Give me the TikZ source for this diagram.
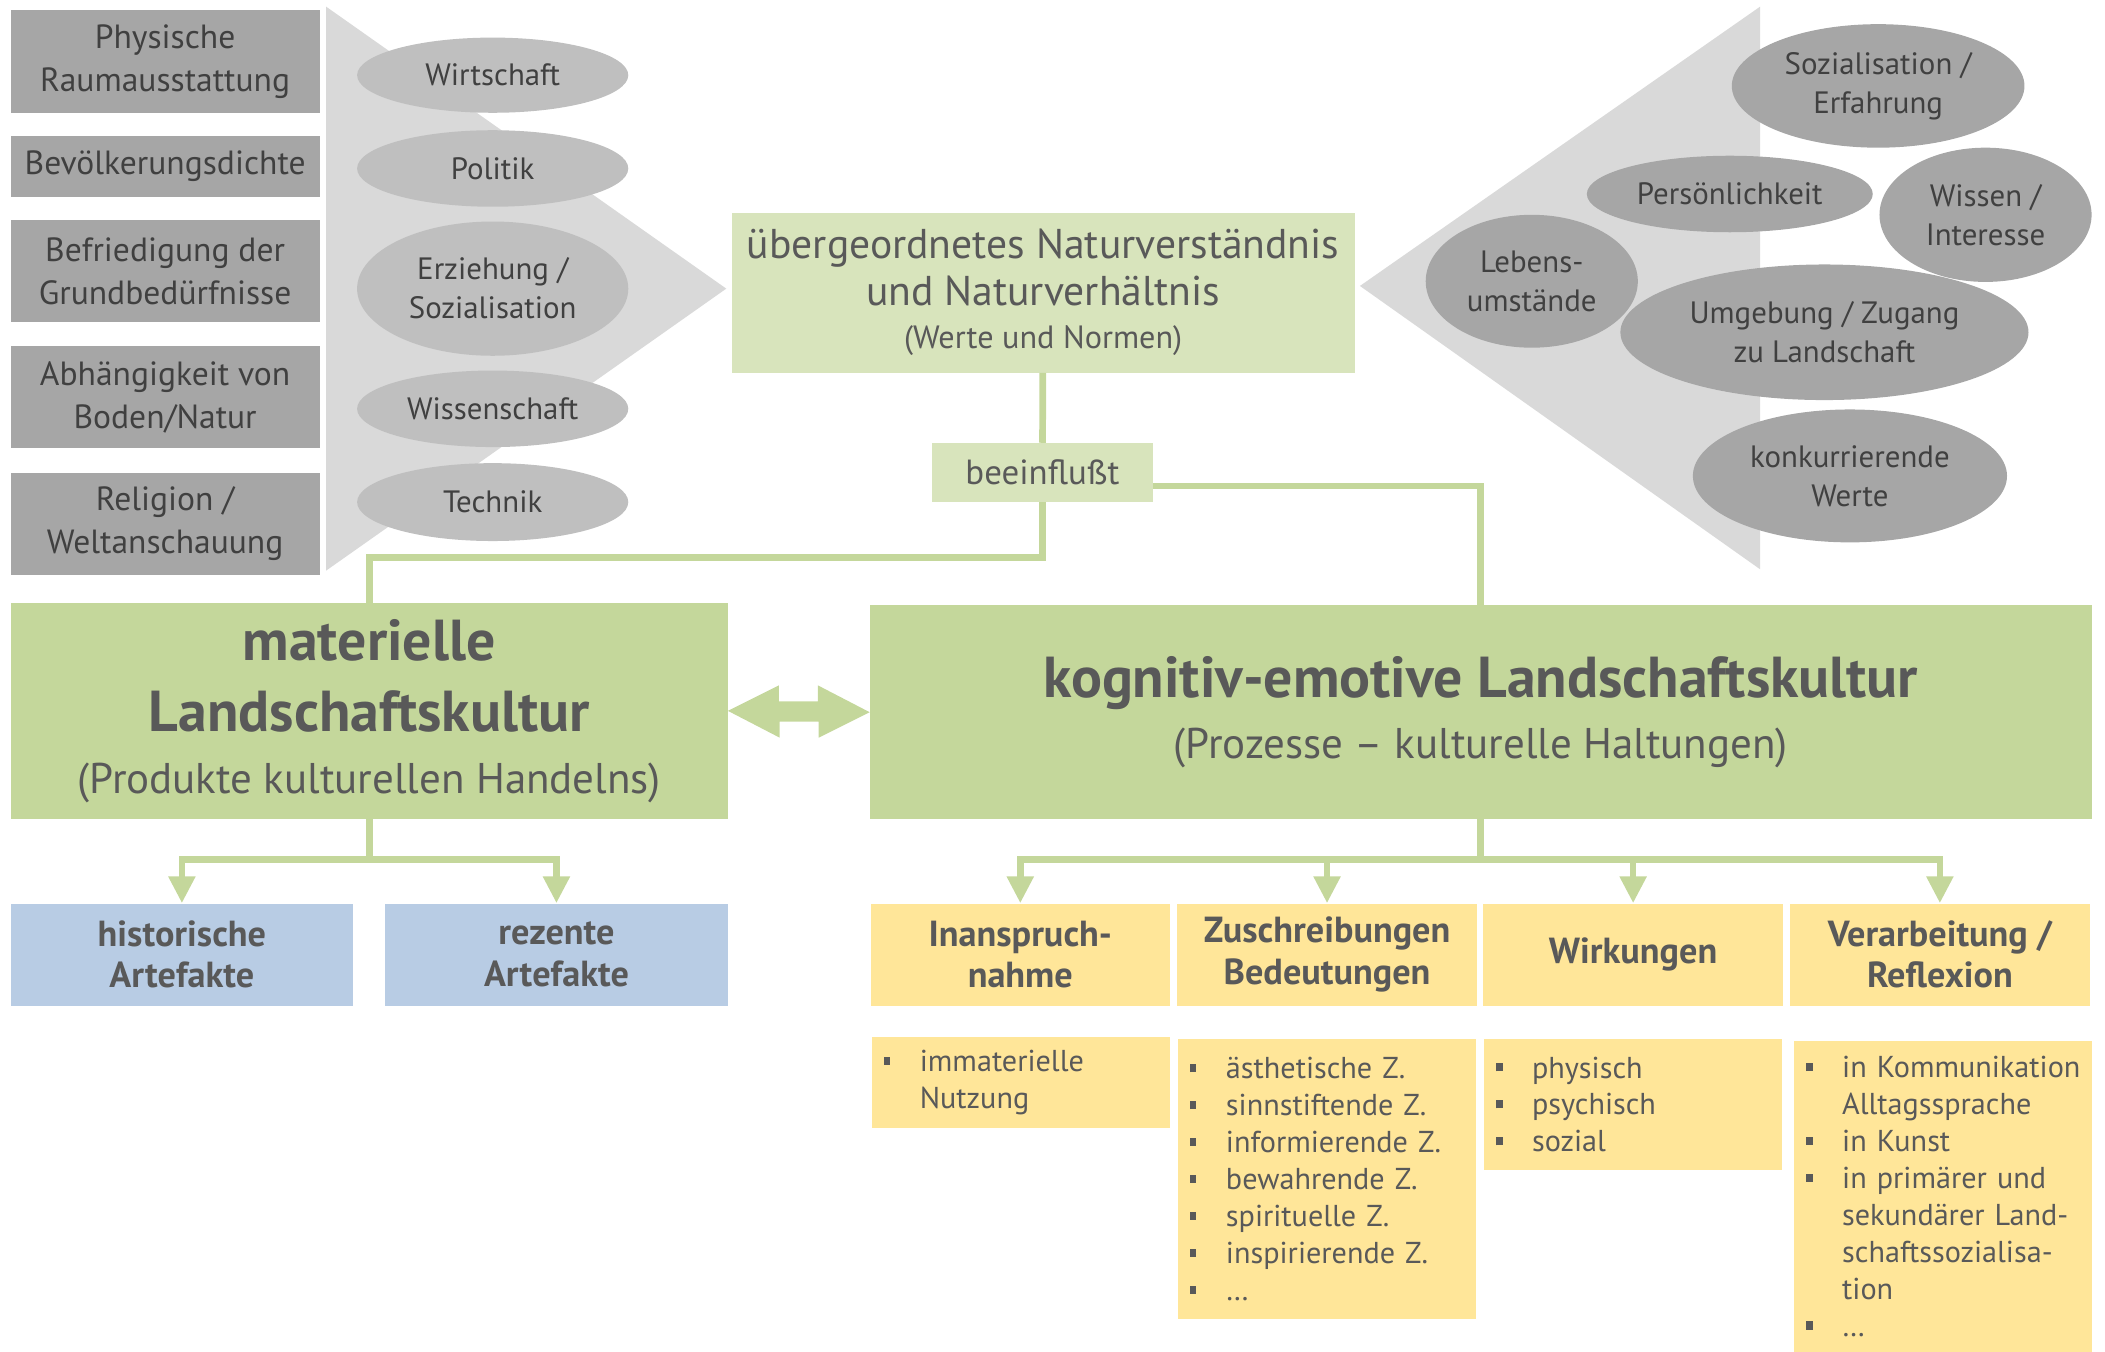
\documentclass[tikz,border=0pt]{standalone}
\usepackage{fontspec}
\setmainfont{PT Sans}
\usetikzlibrary{shapes.geometric,arrows.meta}

\definecolor{boxgray}{HTML}{A6A6A6}
\definecolor{trigray}{HTML}{D9D9D9}
\definecolor{ellgray}{HTML}{BFBFBF}
\definecolor{lightgreen}{HTML}{D8E4BC}
\definecolor{midgreen}{HTML}{C4D79B}
\definecolor{lightblue}{HTML}{B8CCE4}
\definecolor{lightyellow}{HTML}{FFE699}
\definecolor{textgray}{HTML}{404040}
\definecolor{headgray}{HTML}{595959}

\newcommand{\lbul}{\makebox[27pt][l]{\rule[0.22em]{5pt}{6pt}}}
\newcommand{\lind}{\hspace*{27pt}}
\newcommand{\bigrm}{\mdseries\fontsize{32}{40}\selectfont}
\newcommand{\listfont}{\fontsize{22.5}{27.5}\selectfont\hyphenpenalty=10000\relax}

\tikzset{
 factor/.style={fill=boxgray, text=textgray, minimum width=230pt, align=center, inner sep=0pt, font=\fontsize{25}{32}\selectfont},
 inflL/.style={ellipse, fill=ellgray, text=textgray, minimum width=202pt, align=center, inner sep=0pt, font=\fontsize{23}{29}\selectfont},
 inflR/.style={ellipse, fill=boxgray, text=textgray, align=center, inner sep=0pt, font=\fontsize{23}{29}\selectfont},
 kultur/.style={fill=midgreen, text=headgray, align=center, inner sep=0pt, font=\bfseries\fontsize{43}{53}\selectfont},
 artefakt/.style={fill=lightblue, text=headgray, minimum width=255pt, minimum height=76pt, align=center, inner sep=0pt, font=\bfseries\fontsize{27}{31}\selectfont},
 aspekt/.style={fill=lightyellow, text=headgray, minimum width=223pt, minimum height=76pt, align=center, inner sep=0pt, font=\bfseries\fontsize{27}{31}\selectfont},
 liste/.style={fill=lightyellow, text=headgray, anchor=north west, text width=204pt, inner xsep=9pt, inner ysep=0pt, align=left, font=\listfont},
 link/.style={draw=midgreen, line width=5pt},
 linkarrow/.style={link, -{Triangle[length=20pt,width=19pt]}}
}

\begin{document}
\begin{tikzpicture}[x=1pt,y=-1pt]

 \useasboundingbox (0,0) rectangle (1568,1007);

% background triangles
 \fill[trigray] (243,5) -- (541,215) -- (243,425) -- cycle;
 \fill[trigray] (1311,5) -- (1013,213) -- (1311,424) -- cycle;

% left column: basic factors
 \node[factor, minimum height=77pt] (phys) at (123,46) {Physische\\Raumausstattung};
 \node[factor, minimum height=45pt] (bevoel) at (123,124) {Bevölkerungsdichte};
 \node[factor, minimum height=76pt] (befried) at (123,202) {Befriedigung der\\Grundbedürfnisse};
 \node[factor, minimum height=76pt] (abhaeng) at (123,296) {Abhängigkeit von\\Boden/Natur};
 \node[factor, minimum height=76pt] (relig) at (123,390) {Religion /\\Weltanschauung};

% left ellipses
 \node[inflL, minimum height=56pt] (wirt) at (367,56) {Wirtschaft};
 \node[inflL, minimum height=57pt] (pol) at (367,125.5) {Politik};
 \node[inflL, minimum height=100pt] (erz) at (367,215) {Erziehung /\\Sozialisation};
 \node[inflL, minimum height=57pt] (wiss) at (367,304.5) {Wissenschaft};
 \node[inflL, minimum height=58pt] (tech) at (367,374) {Technik};

% right ellipses
 \node[inflR, minimum width=218pt, minimum height=92pt] (soz) at (1399,64) {Sozialisation /\\Erfahrung};
 \node[inflR, minimum width=213pt, minimum height=57pt] (pers) at (1288.5,144.5) {Persönlichkeit};
 \node[inflR, minimum width=158pt, minimum height=100pt] (wissint) at (1479,160) {Wissen /\\Interesse};
 \node[inflR, minimum width=158pt, minimum height=99pt] (leben) at (1141,209.5) {Lebens-\\umstände};
 \node[inflR, minimum width=304pt, minimum height=101pt] (umg) at (1359,247.5) {Umgebung / Zugang\\zu Landschaft};
 \node[inflR, minimum width=234pt, minimum height=99pt] (konk) at (1378,354.5) {konkurrierende\\Werte};

% centre
 \node[fill=lightgreen, text=headgray, minimum width=464pt, minimum height=119pt, align=center, inner sep=0pt,
  font=\fontsize{31}{35}\selectfont] (nat) at (777,218)
  {übergeordnetes Naturverständnis\\und Naturverhältnis\\[-3pt]\fontsize{24}{26}\selectfont (Werte und Normen)};
 \node[fill=lightgreen, text=headgray, minimum width=165pt, minimum height=44pt, inner sep=0pt,
  font=\fontsize{26}{30}\selectfont] (beein) at (776.5,352) {beeinflußt};

% the two cultures
 \node[kultur, minimum width=534pt, minimum height=161pt] (mat) at (275,529.5)
  {materielle\\Landschaftskultur\\[-7pt]\bigrm (Produkte kulturellen Handelns)};
 \node[kultur, minimum width=910pt, minimum height=159pt] (kog) at (1103,530.5)
  {kognitiv-emotive Landschaftskultur\\[-7pt]\bigrm (Prozesse – kulturelle Haltungen)};

% artefacts
 \node[artefakt] (hist) at (135.5,711) {historische\\Artefakte};
 \node[artefakt] (rez) at (414.5,711) {rezente\\Artefakte};

% aspects
 \node[aspekt] (inan) at (760,711) {Inanspruch-\\nahme};
 \node[aspekt] (zus) at (988.5,711) {Zuschreibungen\\Bedeutungen};
 \node[aspekt] (wirk) at (1216.5,711) {Wirkungen};
 \node[aspekt] (verarb) at (1445,711) {Verarbeitung /\\Reflexion};

% lists
 \node[liste, minimum height=68pt] (inanL) at (649,772) {\lbul immaterielle\\\lind Nutzung};
 \node[liste, minimum height=208pt] (zusL) at (877,774)
  {\lbul ästhetische Z.\\\lbul sinnstiftende Z.\\\lbul informierende Z.\\\lbul bewahrende Z.\\\lbul spirituelle Z.\\\lbul inspirierende Z.\\\lbul …};
 \node[liste, minimum height=97pt] (wirkL) at (1105,774) {\lbul physisch\\\lbul psychisch\\\lbul sozial};
 \node[liste, minimum height=232pt] (verarbL) at (1336,775)
  {\lbul\mbox{in Kommunikation}\\\lind Alltagssprache\\\lbul in Kunst\\\lbul in primärer und\\\lind sekundärer Land-\\\lind schaftssozialisa-\\\lind tion\\\lbul …};

% connectors
 \draw[link] (nat) -- (beein);
 \draw[link] (beein.south) -- ++(0,41) -| (mat.north);
 \draw[link] ([yshift=-10pt]beein.east) -| (kog.north);

 \fill[midgreen] (mat.east) -- ++(38,-19) -- ++(0,12) -- ++(29,0) -- ++(0,-12) -- (kog.west)
  -- ++(-38,19) -- ++(0,-12) -- ++(-29,0) -- ++(0,12) -- cycle;

 \draw[linkarrow] (mat.south) -- ++(0,30) -| (hist.north);
 \draw[linkarrow] (mat.south) -- ++(0,30) -| (rez.north);

 \draw[linkarrow] (kog.south) -- ++(0,30) -| (inan.north);
 \draw[linkarrow] (kog.south) -- ++(0,30) -| (zus.north);
 \draw[linkarrow] (kog.south) -- ++(0,30) -| (wirk.north);
 \draw[linkarrow] (kog.south) -- ++(0,30) -| (verarb.north);

\end{tikzpicture}
\end{document}
